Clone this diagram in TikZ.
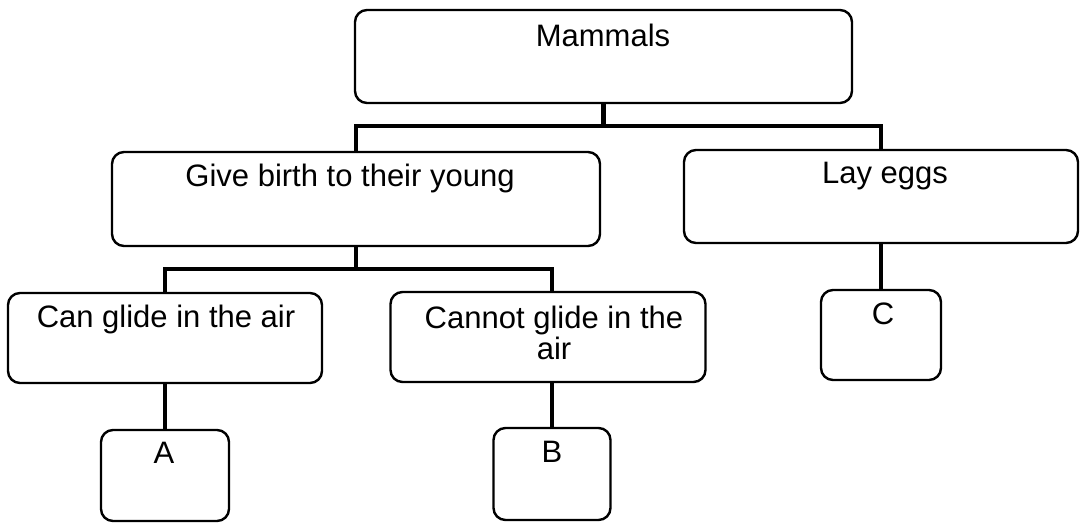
\documentclass[tikz,border=0pt]{standalone}
\usepackage{fontspec}
\setmainfont{Liberation Sans}
\begin{document}
\begin{tikzpicture}[x=1pt,y=-1pt,
  box/.style={draw, rounded corners=12pt, line width=2.4pt, inner sep=0pt},
  lbl/.style={font=\fontsize{31}{31}\selectfont, inner sep=0pt, anchor=center, align=center},
  bus/.style={line width=4.5pt}]
\useasboundingbox (0,0) rectangle (1080,523);
% boxes
\node[box, minimum width=497pt, minimum height=93pt] (mammals) at (603.5,56.5) {};
\node[box, minimum width=488pt, minimum height=94pt] (give) at (356,199) {};
\node[box, minimum width=394pt, minimum height=93pt] (lay) at (881,196.5) {};
\node[box, minimum width=314pt, minimum height=90pt] (can) at (165,338) {};
\node[box, minimum width=315pt, minimum height=90pt] (cannot) at (548,337) {};
\node[box, minimum width=120pt, minimum height=90pt] (c) at (881,335) {};
\node[box, minimum width=128pt, minimum height=91pt] (a) at (165,475.5) {};
\node[box, minimum width=117pt, minimum height=92pt] (b) at (552,474) {};
% texts
\node[lbl] (tm) at (603,35) {Mammals};
\node[lbl] (tg) at (350,178) {Give birth to their young};
\node[lbl] (tl) at (885,176) {Lay eggs};
\node[lbl] (tc) at (166,319) {Can glide in the air};
\node[lbl] (tn) at (554,333) {Cannot glide in the\\air};
\node[lbl] (tC) at (883,314) {C};
\node[lbl] (tA) at (164,453) {A};
\node[lbl] (tB) at (552,452) {B};
% connectors
\coordinate (bus1) at (603.5,126);
\coordinate (bus2) at (356,269);
\draw[bus] (mammals.south) -- (bus1);
\draw[bus] (give.north) |- (bus1) -| (lay.north);
\draw[bus] (give.south) -- (bus2);
\draw[bus] (can.north) |- (bus2) -| (b.north |- cannot.north);
\draw[bus] (lay.south) -- (c.north);
\draw[bus] (can.south) -- (a.north);
\draw[bus] (b.north |- cannot.south) -- (b.north);
\end{tikzpicture}
\end{document}
